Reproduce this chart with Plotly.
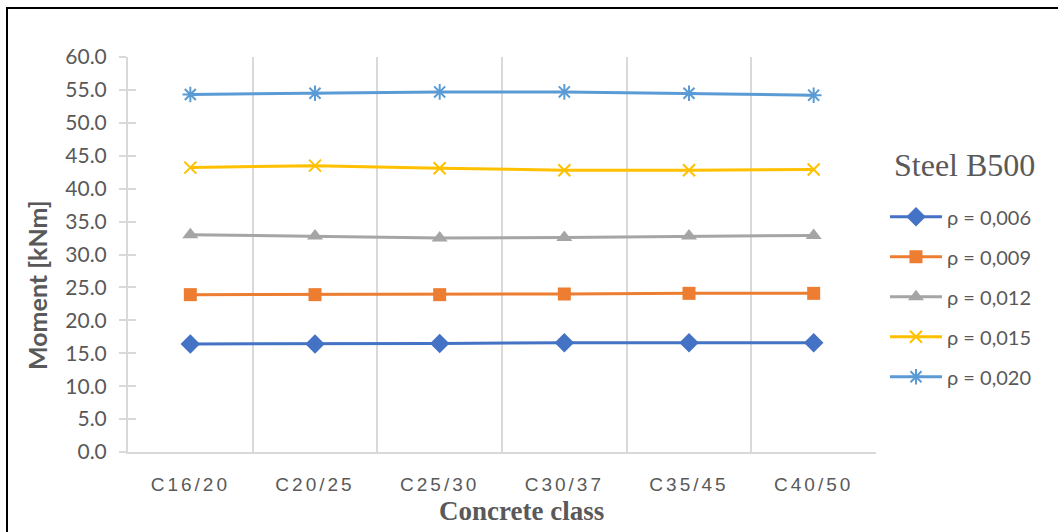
import plotly.graph_objects as go

categories = ["C16/20", "C20/25", "C25/30", "C30/37", "C35/45", "C40/50"]
series_names = ["ρ = 0,006", "ρ = 0,009", "ρ = 0,012", "ρ = 0,015", "ρ = 0,020"]
rho_006 = [16.4, 16.4, 16.5, 16.6, 16.6, 16.6]
rho_009 = [23.9, 23.9, 23.9, 24.0, 24.1, 24.1]
rho_012 = [33.0, 32.8, 32.5, 32.6, 32.8, 32.9]
rho_015 = [43.2, 43.5, 43.1, 42.8, 42.8, 42.9]
rho_020 = [54.3, 54.5, 54.7, 54.7, 54.5, 54.2]
y_ticks = [0, 5, 10, 15, 20, 25, 30, 35, 40, 45, 50, 55, 60]

series = [rho_006, rho_009, rho_012, rho_015, rho_020]
colors = ["#4472C4", "#ED7D31", "#A5A5A5", "#FFC000", "#5B9BD5"]
markers = [
    dict(symbol="diamond", size=15, line=dict(width=0)),
    dict(symbol="square", size=13, line=dict(width=0)),
    dict(symbol="triangle-up", size=14, line=dict(width=0)),
    dict(symbol="x-thin-open", size=12, line=dict(width=2)),
    dict(symbol="asterisk-open", size=13, line=dict(width=2)),
]

GREY = "#595959"
AXIS = "#d9d9d9"
SANS = "Lato, Liberation Sans, sans-serif"

fig = go.Figure()
for i, (name, vals) in enumerate(zip(series_names, series)):
    m = dict(markers[i])
    m["color"] = colors[i]
    m["line"] = dict(m["line"], color=colors[i])
    fig.add_trace(go.Scatter(
        x=categories, y=vals, name=name, mode="lines+markers",
        line=dict(color=colors[i], width=3), marker=m,
        legendgroup=f"g{i}",
    ))

# invisible helper trace so the overlaid y-axis (inner half of the cross ticks) is drawn
fig.add_trace(go.Scatter(x=[categories[0]], y=[None], yaxis="y2", showlegend=False,
                         hoverinfo="skip", mode="lines"))

fig.update_layout(
    width=1058, height=532,
    margin=dict(l=128, r=182, t=57, b=80),
    paper_bgcolor="white", plot_bgcolor="white",
    font=dict(family=SANS, color=GREY),
    showlegend=True,
    legend=dict(
        font=dict(family=SANS, size=20, color=GREY),
        x=1.012, y=0.645, xanchor="left", yanchor="top",
        tracegroupgap=11, itemwidth=52, bgcolor="rgba(0,0,0,0)",
    ),
    xaxis=dict(
        type="category", range=[-0.5, 5.5], tickson="boundaries", showgrid=True,
        gridcolor=AXIS, gridwidth=2,
        showline=True, linecolor=AXIS, linewidth=2, ticks="",
        tickfont=dict(family="Liberation Sans Narrow, Liberation Sans, sans-serif", size=19, color=GREY),
        ticklabelstandoff=14,
        zeroline=False,
    ),
    yaxis=dict(
        range=[0, 60], tickvals=y_ticks, tickformat=".1f", showgrid=False, zeroline=False,
        showline=True, linecolor=AXIS, linewidth=2,
        ticks="outside", ticklen=7, tickcolor=AXIS, tickwidth=2,
        tickfont=dict(family=SANS, size=21, color=GREY),
        ticklabelstandoff=8,
    ),
    yaxis2=dict(
        overlaying="y", side="left", range=[0, 60], tickvals=y_ticks,
        showticklabels=False, showgrid=False, zeroline=False, showline=False,
        ticks="inside", ticklen=8, tickcolor=AXIS, tickwidth=2,
    ),
    annotations=[
        dict(text="<b>Moment [kNm]</b>", xref="paper", yref="paper",
             x=(37 - 128) / 748, y=(452 - 285) / 395, textangle=-90,
             showarrow=False, xanchor="center", yanchor="middle",
             font=dict(family=SANS, size=25, color=GREY)),
        dict(text="<b>Concrete class</b>", xref="paper", yref="paper",
             x=(521 - 128) / 748, y=(452 - 511) / 395,
             showarrow=False, xanchor="center", yanchor="middle",
             font=dict(family="Liberation Serif", size=27, color=GREY)),
        dict(text="Steel B500", xref="paper", yref="paper",
             x=(965 - 128) / 748, y=(452 - 165) / 395,
             showarrow=False, xanchor="center", yanchor="middle",
             font=dict(family="Liberation Serif", size=32, color=GREY)),
    ],
    shapes=[dict(
        type="rect", xref="paper", yref="paper",
        x0=(7 - 128) / 748, x1=(1070 - 128) / 748,
        y0=(452 - 545) / 395, y1=(452 - 8) / 395,
        line=dict(color="black", width=2), fillcolor="rgba(0,0,0,0)", layer="above",
    )],
)

fig.write_html(
    "out.html",
    post_script="document.querySelectorAll('.xtick text').forEach(function(t){t.style.letterSpacing='3px';});",
)
